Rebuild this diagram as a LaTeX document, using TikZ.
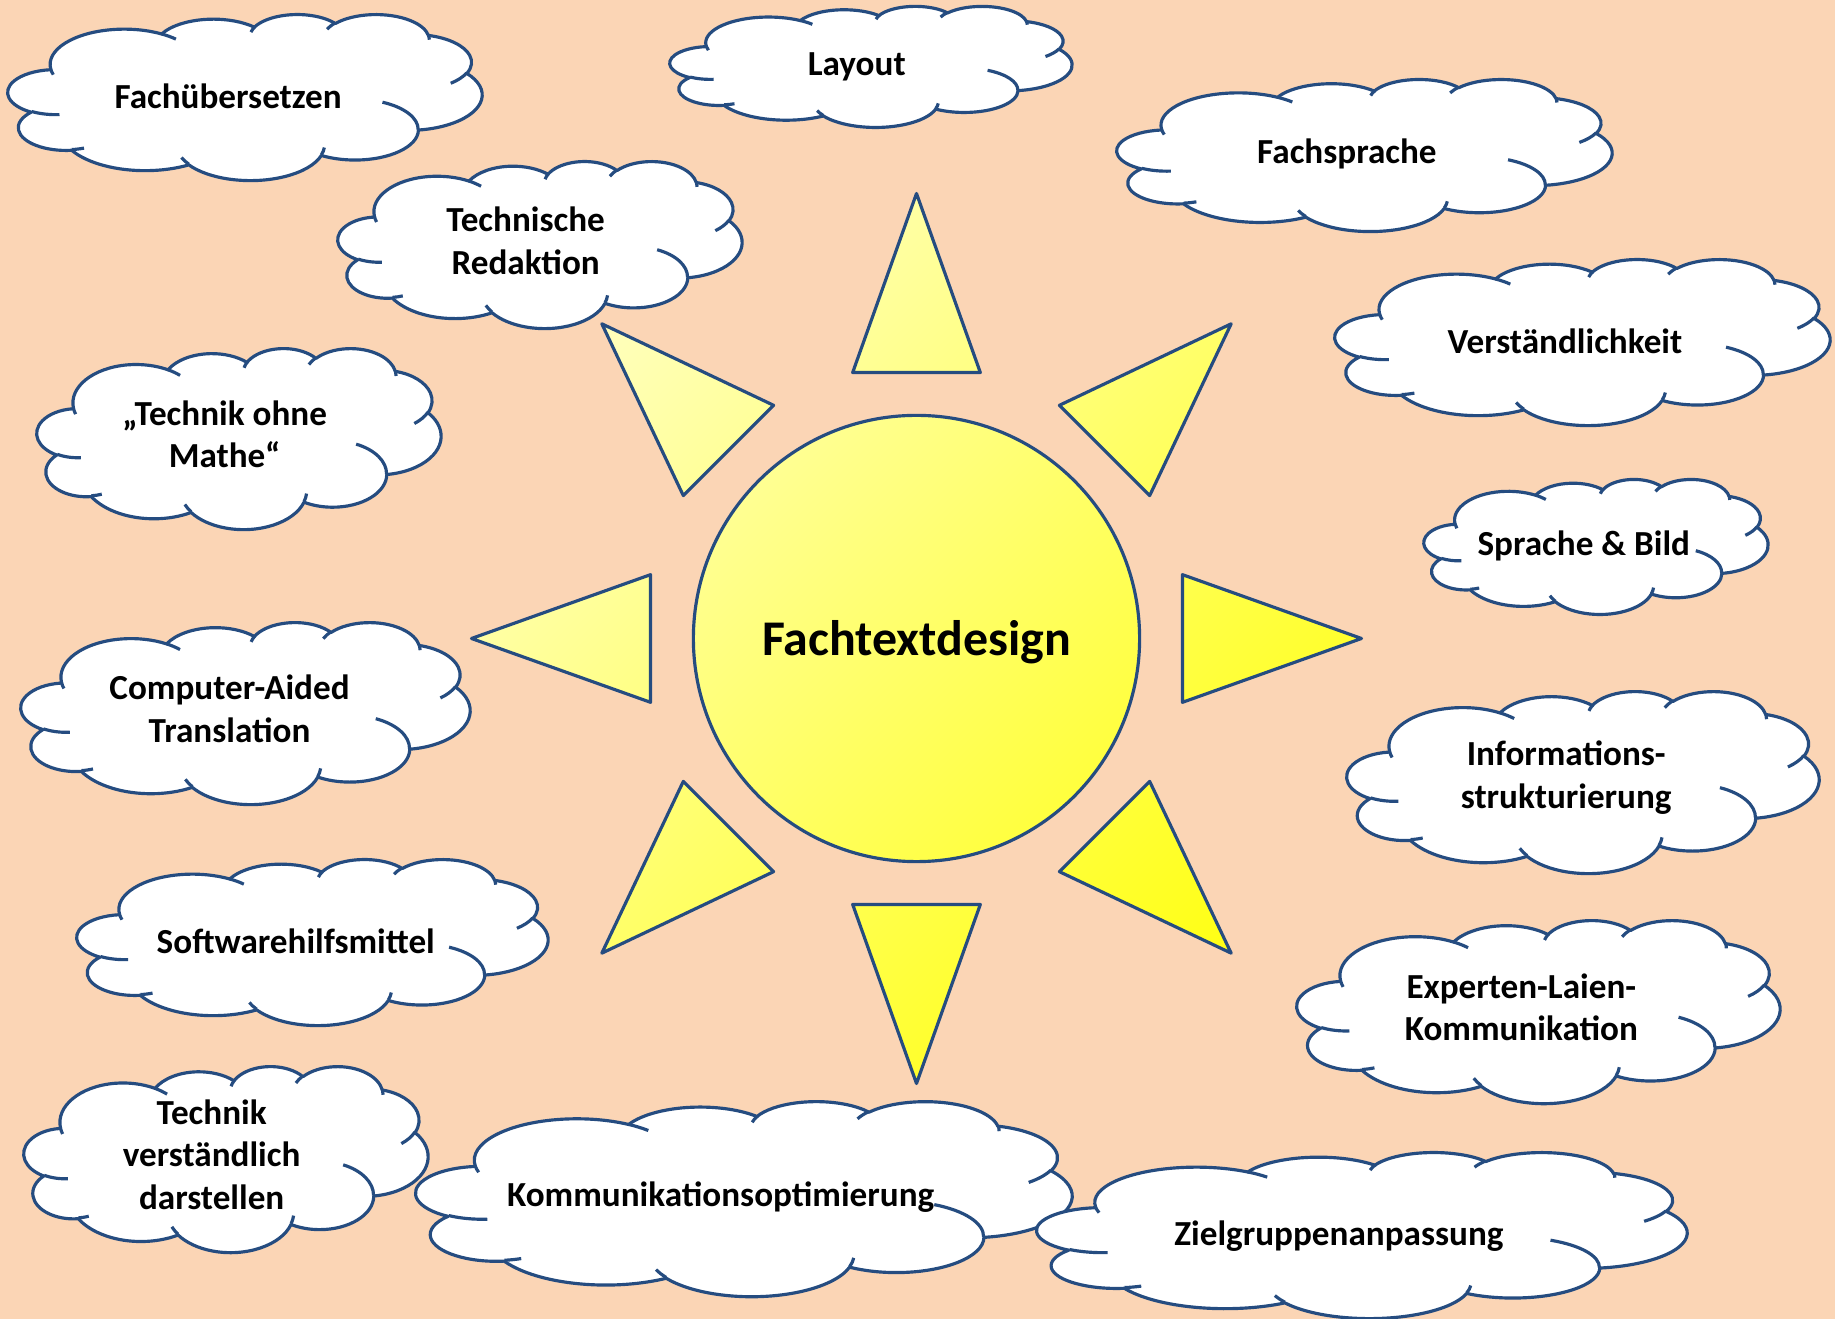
\documentclass[tikz,border=0pt]{standalone}
\usepackage{fontspec}
\setmainfont{Carlito}
\definecolor{peach}{RGB}{251,213,181}
\definecolor{inkblue}{RGB}{37,76,128}
\definecolor{sunpale}{RGB}{255,255,188}
\definecolor{sundeep}{RGB}{255,255,20}

\tikzset{
  declare function={
    vang(\ea,\eb,\ag)=atan2(\ea*sin(\ag),\eb*cos(\ag));
    nrm(\dd,\sw)=\dd-360*round((\dd-\sw)/360);
    dang(\ea,\eb,\ag,\sw)=nrm(vang(\ea,\eb,\ag+\sw)-vang(\ea,\eb,\ag),\sw);
  },
  cloudline/.style={draw=inkblue, line width=0.9pt, line join=round},
  cloudtext/.style={font=\bfseries\fontsize{10pt}{12.1pt}\selectfont, align=center, inner sep=0pt},
  oneline/.style={yshift=-0.8pt},
}

% one puff of the cloud, angles as seen on screen
\newcommand\cldarc[4]{arc[x radius=#1, y radius=#2, start angle={vang(#1,#2,#3)}, delta angle={dang(#1,#2,#3,#4)}]}

% [node options] name, left, top, width, height, text
\newcommand\wolke[7][]{%
  \begin{scope}[xshift=#3*0.01cm, yshift=-#4*0.01cm, x=1cm, y=1cm,
                xscale=#5*0.01/43.2, yscale=-#6*0.01/43.2]
    \path[cloudline, fill=white] (3.9,14.37)
      \cldarc{6.753}{9.19}{-190.4875}{123.7805}
      \cldarc{5.333}{7.267}{-144.1024}{89.9452}
      \cldarc{4.365}{5.945}{-145.8079}{99.723}
      \cldarc{4.857}{6.595}{-130.9861}{117.2417}
      \cldarc{5.333}{7.273}{-78.7089}{109.0269}
      \cldarc{6.775}{9.22}{-46.2673}{130.269}
      \cldarc{5.785}{7.867}{0.625}{114.0333}
      \cldarc{6.752}{9.215}{22.4516}{115.1726}
      \cldarc{7.72}{10.543}{66.2426}{75.711}
      \cldarc{4.36}{5.918}{-274.9421}{146.7356}
      \cldarc{4.345}{5.945}{-246.8285}{152.5189} -- cycle;
    \path[cloudline] (4.693,26.177) \cldarc{4.345}{5.945}{86.742}{26.4295}
      (6.928,34.899) \cldarc{4.36}{5.918}{73.6105}{11.4475}
      (16.478,39.09) \cldarc{6.752}{9.215}{137.6242}{14.0811}
      (28.827,34.751) \cldarc{6.752}{9.215}{6.4533}{15.9984}
      (34.129,22.954) \cldarc{5.785}{7.867}{-70.2924}{70.9174}
      (41.798,15.354) \cldarc{5.333}{7.273}{30.318}{27.7515}
      (38.324,5.426) \cldarc{4.857}{6.595}{-13.7443}{14.8589}
      (29.078,3.952) \cldarc{4.857}{6.595}{-149.1815}{18.1954}
      (22.141,4.72) \cldarc{4.365}{5.945}{-163.4943}{17.6864}
      (14,5.192) \cldarc{6.753}{9.19}{-66.707}{12.3194}
      (4.127,15.789) \cldarc{6.753}{9.19}{157.6544}{11.8582};
  \end{scope}
  \node[cloudtext, #1] (#2) at ({#3+0.4645*#5},{#4+0.4768*#6}) {#7};}

\begin{document}
\begin{tikzpicture}[x=0.01cm, y=-0.01cm]
\useasboundingbox (0,0) rectangle (1835,1319);
\fill[peach] (0,0) rectangle (1835,1319);

% left side
\wolke[oneline]{fachueb}{8}{14}{474}{166}{Fachübersetzen}
\wolke{technred}{338}{161}{404}{167}{Technische\\Redaktion}
\wolke{ohnemathe}{37}{348}{404}{181}{„Technik ohne\\Mathe“}
\wolke{cat}{21}{622}{449}{182}{Computer-Aided\\Translation}
\wolke[oneline]{software}{77}{859}{471}{166}{Softwarehilfsmittel}
\wolke{technverst}{24}{1066}{404}{186}{Technik\\verständlich\\darstellen}

% top and right side
\wolke[oneline]{layout}{670}{6}{402}{121}{Layout}
\wolke[oneline]{fachspr}{1117}{79}{495}{152}{Fachsprache}
\wolke[oneline]{verstaend}{1335}{259}{495}{166}{Verständlichkeit}
\wolke[oneline]{sprbild}{1424}{479}{344}{135}{Sprache \& Bild}
\wolke{infostr}{1347}{691}{472}{182}{Informations-\\strukturierung}
\wolke{expertlaien}{1297}{920}{483}{183}{Experten-Laien-\\Kommunikation}

% bottom
\wolke[oneline]{kommopt}{416}{1101}{656}{195}{Kommunikationsoptimierung}
\wolke[yshift=-1.4pt]{zielgr}{1037}{1152}{650}{166}{Zielgruppenanpassung}

% the sun
\begin{scope}[shift={(916.5,638.5)}]
  \shade[cloudline, top color=sunpale, bottom color=sundeep, shading angle=45]
    (0,0) circle[radius=2.23cm]
    \foreach \a in {0,45,...,315} { (\a:445) -- (\a+13.5:273.5) -- (\a-13.5:273.5) -- cycle };
\end{scope}
\node[font=\bfseries\fontsize{14.2pt}{17pt}\selectfont, inner sep=0pt, anchor=base] (sun) at (916.5,656) {Fachtextdesign};

\end{tikzpicture}
\end{document}
